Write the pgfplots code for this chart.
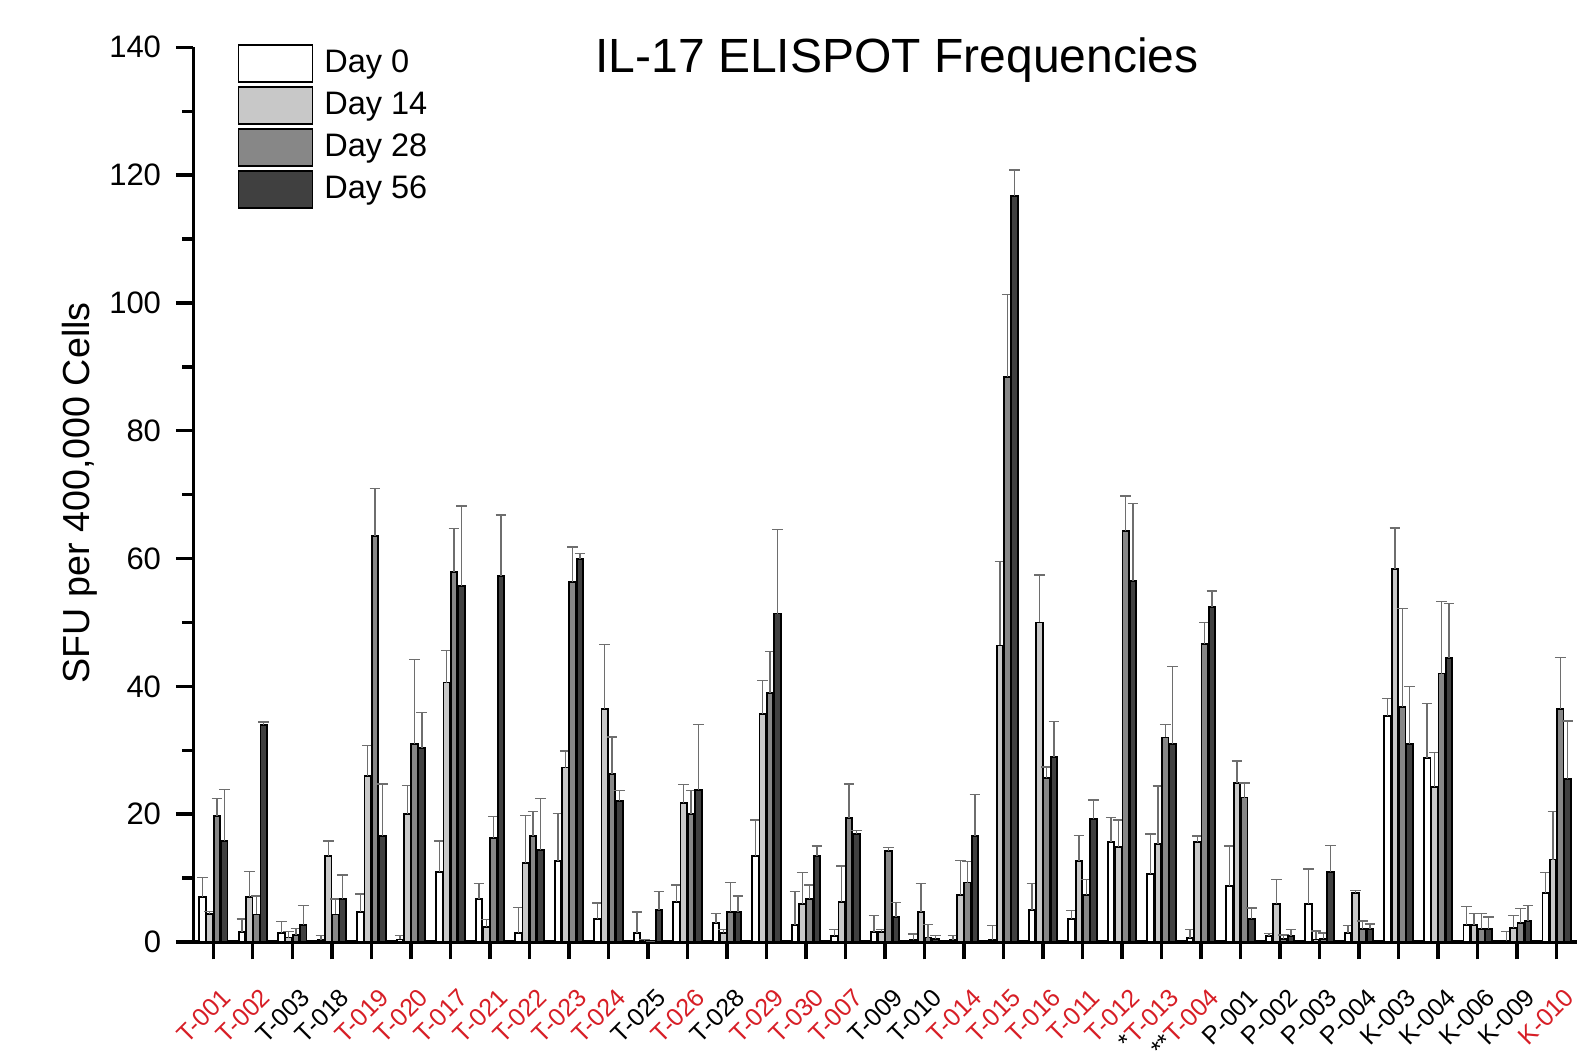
\documentclass[border=0pt]{standalone}
\usepackage{fontspec}
\setmainfont{Liberation Sans}
\usepackage{pgfplots}
\usepackage{pgfplotstable}
\pgfplotsset{compat=1.18}

\definecolor{lblred}{RGB}{215,30,38}
\definecolor{d14}{RGB}{200,200,200}
\definecolor{d28}{RGB}{135,135,135}
\definecolor{d56}{RGB}{64,64,64}
\definecolor{errc}{RGB}{110,110,110}
\newcommand\R[1]{\textcolor{lblred}{#1}}

% x d0 e0 d14 e14 d28 e28 d56 e56  (e = upper error)
\pgfplotstableread{
x  d0   e0   d14  e14  d28  e28  d56   e56
0  7.0  3.1  4.4  0.4  19.7 2.8  15.8  8.1
1  1.6  2.0  7.1  3.9  4.3  2.9  34.0  0.4
2  1.35 1.85 0.7  0.9  1.1  1.0  2.7   3.0
3  0.3  0.7  13.4 2.4  4.3  2.4  6.7   3.8
4  4.7  2.8  26.0 4.7  63.5 7.5  16.6  8.1
5  0.4  0.6  20.0 4.5  31.0 13.2 30.4  5.5
6  11.0 4.8  40.6 5.0  57.9 6.8  55.7  12.5
7  6.7  2.4  2.4  1.1  16.3 3.3  57.3  9.5
8  1.4  4.0  12.3 7.5  16.6 3.8  14.4  8.0
9  12.7 7.4  27.3 2.6  56.3 5.5  59.9  0.9
10 3.6  2.5  36.5 10.1 26.3 5.8  22.1  1.6
11 1.35 3.35 0.2  0.2  0.0  0.0  5.0   2.9
12 6.3  2.6  21.7 2.9  20.0 3.7  23.8  10.2
13 3.0  1.5  1.35 0.55 4.7  4.6  4.7   2.5
14 13.4 5.7  35.7 5.2  39.0 6.5  51.4  13.1
15 2.6  5.3  6.0  4.9  6.7  2.2  13.4  1.6
16 0.9  1.0  6.3  5.6  19.4 5.3  16.9  0.5
17 1.6  2.5  1.5  0.4  14.3 0.5  3.9   2.3
18 0.3  0.95 4.7  4.4  0.7  2.0  0.5   0.5
19 0.3  0.7  7.3  5.4  9.3  3.3  16.6  6.5
20 0.3  2.3  46.4 13.1 88.4 12.9 116.7 4.1
21 5.0  4.2  50.0 7.4  25.6 1.8  29.0  5.5
22 3.6  1.3  12.7 4.0  7.4  2.4  19.2  3.0
23 15.7 3.8  14.9 4.2  64.3 5.5  56.5  12.1
24 10.6 6.3  15.3 9.1  32.0 2.0  31.0  12.1
25 0.6  1.3  15.7 0.9  46.6 3.4  52.4  2.5
26 8.7  6.3  24.9 3.4  22.6 2.3  3.6   1.7
27 0.9  0.45 6.0  3.8  0.5  0.6  0.9   1.0
28 6.0  5.4  0.4  1.3  0.5  0.9  11.0  4.1
29 1.35 1.25 7.6  0.5  2.0  1.3  2.0   0.8
30 35.4 2.7  58.4 6.4  36.8 15.4 31.0  9.0
31 28.8 8.5  24.3 5.4  42.0 11.3 44.4  8.6
32 2.7  2.9  2.7  1.8  2.0  2.5  2.0   1.9
33 0.2  1.4  2.2  1.9  3.0  2.2  3.3   2.4
34 7.6  3.3  12.9 7.5  36.5 8.0  25.5  9.1
}\elispot

\begin{document}
\begin{tikzpicture}
\begin{axis}[
  name=ax,
  scale only axis, width=415.1pt, height=268.4pt,
  xmin=-0.506, xmax=34.515, ymin=0, ymax=140,
  axis lines*=left,
  axis line style={line width=1pt},
  tick style={line width=1pt, black},
  tick align=outside,
  major tick length=5.2pt, minor tick length=3.3pt,
  ytick={0,20,...,140}, minor y tick num=1,
  xtick={0,...,34}, minor x tick num=0,
  xticklabels={\R{T-001},\R{T-002},T-003,T-018,\R{T-019},\R{T-020},\R{T-017},\R{T-021},\R{T-022},\R{T-023},\R{T-024},T-025,\R{T-026},T-028,\R{T-029},\R{T-030},\R{T-007},T-009,T-010,\R{T-014},\R{T-015},\R{T-016},\R{T-011},\R{T-012},*\R{T-013},**\R{T-004},P-001,P-002,P-003,P-004,K-003,K-004,K-006,K-009,\R{K-010}},
  xticklabel style={font=\fontsize{7.5}{8}\selectfont, xshift=4pt, yshift=-10pt, rotate=45, anchor=east, inner sep=0pt},
  yticklabel style={font=\fontsize{9.3}{10}\selectfont, inner sep=0pt, xshift=-4.3pt},
  /pgf/number format/assume math mode=true,
  ylabel={SFU per 400,000 Cells},
  ylabel style={font=\fontsize{11.3}{12}\selectfont, at={(rel axis cs:-0.0754,0.502)}, anchor=base, rotate=0},
  title={IL-17 ELISPOT Frequencies},
  title style={font=\fontsize{14.4}{15}\selectfont, at={(rel axis cs:0.5086,0.949)}, anchor=base},
  ybar, bar width=0.165,
  every axis plot/.append style={draw=black, line width=0.55pt},
  error bars/error bar style={errc, line width=0.4pt},
  error bars/error mark options={errc, line width=0.4pt, rotate=90, mark size=1.6pt},
  legend cell align=left,
  legend image code/.code={\draw[#1, line width=0.5pt] (0pt,-5.55pt) rectangle (22.2pt,5.55pt);},
  legend style={draw=none, fill=none, at={(rel axis cs:0.0316,1.004)}, anchor=north west,
    font=\fontsize{9.75}{10}\selectfont, inner sep=0pt, row sep=1.0pt, column sep=3.3pt,
    nodes={inner sep=0pt}},
]
\addplot[fill=white, bar shift=-0.2775, error bars/.cd, y dir=plus, y explicit]
  table[x=x, y=d0, y error=e0] {\elispot};
\addplot[fill=d14, bar shift=-0.0925, error bars/.cd, y dir=plus, y explicit]
  table[x=x, y=d14, y error=e14] {\elispot};
\addplot[fill=d28, bar shift=0.0925, error bars/.cd, y dir=plus, y explicit]
  table[x=x, y=d28, y error=e28] {\elispot};
\addplot[fill=d56, bar shift=0.2775, error bars/.cd, y dir=plus, y explicit]
  table[x=x, y=d56, y error=e56] {\elispot};
\legend{Day 0, Day 14, Day 28, Day 56}
\end{axis}
\pgfresetboundingbox
\path ([xshift=-58pt,yshift=-34.8pt]ax.south west) rectangle ([yshift=14.2pt]ax.north east);
\end{tikzpicture}
\end{document}
